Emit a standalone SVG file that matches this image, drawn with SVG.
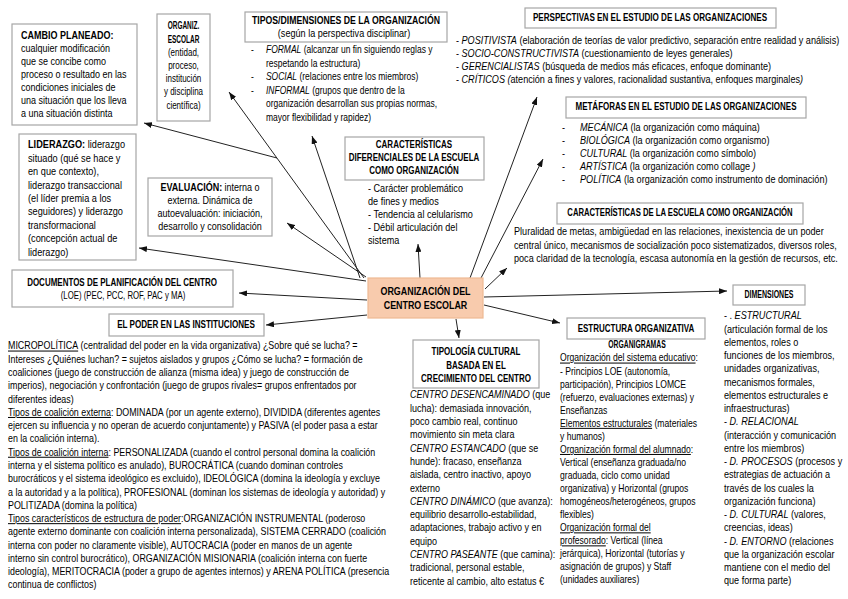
<svg xmlns="http://www.w3.org/2000/svg" width="848" height="599" viewBox="0 0 848 599">
<defs>
<marker id="ah" markerWidth="8" markerHeight="6" refX="8" refY="3" orient="auto" markerUnits="userSpaceOnUse"><path d="M0,0 L8,3 L0,6 Z" fill="#111"/></marker>
<style>
text{font-family:"Liberation Sans",Arial,sans-serif;font-size:10px;fill:#000}
.b{font-weight:bold}
.i{font-style:italic}
.u{text-decoration:underline}
.c{text-anchor:middle}
.box{fill:#fff;stroke:#a6a6a6;stroke-width:1.2}
.core{fill:#f8cbad;stroke:#eeb993;stroke-width:1.2}
.ln{stroke:#222;stroke-width:1;fill:none;marker-end:url(#ah)}
</style>
</defs>
<rect width="848" height="599" fill="#fff"/>
<g id="connectors">
<line class="ln" x1="277" y1="158" x2="144" y2="123"/>
<line class="ln" x1="364" y1="278" x2="229" y2="92"/>
<line class="ln" x1="360" y1="278" x2="312" y2="136"/>
<line class="ln" x1="366" y1="281" x2="139" y2="248"/>
<line class="ln" x1="366" y1="277" x2="287" y2="223"/>
<line class="ln" x1="367" y1="300" x2="239" y2="293"/>
<line class="ln" x1="367" y1="315" x2="266" y2="325"/>
<line class="ln" x1="420" y1="278" x2="418" y2="244"/>
<line class="ln" x1="470" y1="278" x2="537" y2="97"/>
<line class="ln" x1="481" y1="278" x2="543" y2="159"/>
<line class="ln" x1="485" y1="289" x2="507" y2="268"/>
<line class="ln" x1="484" y1="297" x2="727" y2="291"/>
<line class="ln" x1="484" y1="305" x2="560" y2="323"/>
<line class="ln" x1="456" y1="319" x2="459" y2="338"/>
</g>
<g id="cambio">
<rect class="box" x="12" y="24" width="125" height="101"/>
<g transform="translate(21 0) scale(0.9 1)">
<text y="39.5"><tspan class="b">CAMBIO PLANEADO:</tspan></text>
<text y="52.5">cualquier modificación</text>
<text y="65.5">que se concibe como</text>
<text y="78.5">proceso o resultado en las</text>
<text y="91.5">condiciones iniciales de</text>
<text y="104.5">una situación que los lleva</text>
<text y="117.5">a una situación distinta</text>
</g>
</g>
<g id="organiz">
<rect class="box" x="157" y="14" width="53" height="107"/>
<g transform="translate(183.5 0) scale(0.65 1)">
<text class="c b" y="29.5">ORGANIZ.</text>
<text class="c b" y="42.7">ESCOLAR</text>
</g>
<g transform="translate(183.5 0) scale(0.8 1)">
<text class="c" y="55.9">(entidad,</text>
<text class="c" y="69.1">proceso,</text>
<text class="c" y="82.3">institución</text>
<text class="c" y="95.5">y disciplina</text>
<text class="c" y="108.7">científica)</text>
</g>
</g>
<g id="tipos">
<rect class="box" x="245" y="12" width="202" height="30"/>
<g transform="translate(346 0) scale(0.87 1)"><text class="c b" y="24.5">TIPOS/DIMENSIONES DE LA ORGANIZACIÓN</text></g>
<g transform="translate(344 0) scale(0.91 1)"><text class="c" y="37.5">(según la perspectiva disciplinar)</text></g>
<g transform="translate(251 0) scale(0.85 1)">
<text y="53.5">-</text><text x="17.6" y="53.5"><tspan class="i">FORMAL</tspan> (alcanzar un fin siguiendo reglas y</text>
<text x="17.6" y="67">respetando la estructura)</text>
<text y="80.5">-</text><text x="17.6" y="80.5"><tspan class="i">SOCIAL</tspan> (relaciones entre los miembros)</text>
<text y="94">-</text><text x="17.6" y="94"><tspan class="i">INFORMAL</tspan> (grupos que dentro de la</text>
<text x="17.6" y="107.5">organización desarrollan sus propias normas,</text>
<text x="17.6" y="121">mayor flexibilidad y rapidez)</text>
</g>
</g>
<g id="perspectivas">
<rect class="box" x="525" y="8" width="251" height="20"/>
<g transform="translate(650 0) scale(0.81 1)"><text class="c b" y="21.5">PERSPECTIVAS EN EL ESTUDIO DE LAS ORGANIZACIONES</text></g>
<g transform="translate(456 0) scale(0.91 1)">
<text y="44.5">- <tspan class="i">POSITIVISTA</tspan> (elaboración de teorías de valor predictivo, separación entre realidad y análisis)</text>
<text y="57.5">- <tspan class="i">SOCIO-CONSTRUCTIVISTA</tspan> (cuestionamiento de leyes generales)</text>
<text y="70.5">- <tspan class="i">GERENCIALISTAS</tspan> (búsqueda de medios más eficaces, enfoque dominante)</text>
<text y="83.5">- <tspan class="i">CRÍTICOS (</tspan>atención a fines y valores, racionalidad sustantiva, enfoques marginales<tspan class="i">)</tspan></text>
</g>
</g>
<g id="metaforas">
<rect class="box" x="566" y="97" width="240" height="21"/>
<g transform="translate(686 0) scale(0.8 1)"><text class="c b" y="110.5">METÁFORAS EN EL ESTUDIO DE LAS ORGANIZACIONES</text></g>
<g transform="translate(562 0) scale(0.91 1)">
<text y="131.5">-</text><text x="19.8" y="131.5"><tspan class="i">MECÁNICA</tspan> (la organización como máquina)</text>
<text y="144.5">-</text><text x="19.8" y="144.5"><tspan class="i">BIOLÓGICA</tspan> (la organización como organismo)</text>
<text y="157.5">-</text><text x="19.8" y="157.5"><tspan class="i">CULTURAL</tspan> (la organización como símbolo)</text>
<text y="170.5">-</text><text x="19.8" y="170.5"><tspan class="i">ARTÍSTICA</tspan> (la organización como collage<tspan class="i"> )</tspan></text>
<text y="183.5">-</text><text x="19.8" y="183.5"><tspan class="i">POLÍTICA</tspan> (la organización como instrumento de dominación)</text>
</g>
</g>
<g id="caract-dif">
<rect class="box" x="345" y="137" width="139" height="43"/>
<g transform="translate(414 0) scale(0.8 1)">
<text class="c b" y="148.5">CARACTERÍSTICAS</text>
<text class="c b" y="161.5">DIFERENCIALES DE LA ESCUELA</text>
<text class="c b" y="174.5">COMO ORGANIZACIÓN</text>
</g>
<g transform="translate(368 0) scale(0.91 1)">
<text y="192.5">- Carácter problemático</text>
<text y="205.5">de fines y medios</text>
<text y="218.5">- Tendencia al celularismo</text>
<text y="231.5">- Débil articulación del</text>
<text y="244.5">sistema</text>
</g>
</g>
<g id="caract-escuela">
<rect class="box" x="557" y="203" width="246" height="21"/>
<g transform="translate(680 0) scale(0.77 1)"><text class="c b" y="216.5">CARACTERÍSTICAS DE LA ESCUELA COMO ORGANIZACIÓN</text></g>
<g transform="translate(514 0) scale(0.91 1)">
<text y="235.5">Pluralidad de metas, ambigüedad en las relaciones, inexistencia de un poder</text>
<text y="249">central único, mecanismos de socialización poco sistematizados, diversos roles,</text>
<text y="262.5">poca claridad de la tecnología, escasa autonomía en la gestión de recursos, etc.</text>
</g>
</g>
<g id="liderazgo">
<rect class="box" x="19" y="134" width="117" height="126"/>
<g transform="translate(28 0) scale(0.92 1)">
<text y="148.5"><tspan class="b">LIDERAZGO:</tspan> liderazgo</text>
<text y="161.9">situado (qué se hace y</text>
<text y="175.3">en que contexto),</text>
<text y="188.7">liderazgo transaccional</text>
<text y="202.1">(el líder premia a los</text>
<text y="215.5">seguidores) y liderazgo</text>
<text y="228.9">transformacional</text>
<text y="242.3">(concepción actual de</text>
<text y="255.7">liderazgo)</text>
</g>
</g>
<g id="evaluacion">
<rect class="box" x="148" y="178" width="124" height="58"/>
<g transform="translate(210 0) scale(0.9 1)">
<text class="c" y="191"><tspan class="b">EVALUACIÓN:</tspan> interna o</text>
<text class="c" y="204">externa. Dinámica de</text>
<text class="c" y="217">autoevaluación: iniciación,</text>
<text class="c" y="230">desarrollo y consolidación</text>
</g>
</g>
<g id="documentos">
<rect class="box" x="12" y="270" width="221" height="37"/>
<g transform="translate(122 0) scale(0.8 1)"><text class="c b" y="286.5">DOCUMENTOS DE PLANIFICACIÓN DEL CENTRO</text></g>
<g transform="translate(123 0) scale(0.78 1)"><text class="c" y="299.5">(LOE) (PEC, PCC, ROF, PAC y MA)</text></g>
</g>
<g id="poder">
<rect class="box" x="109" y="314" width="155" height="22"/>
<g transform="translate(186 0) scale(0.81 1)"><text class="c b" y="328.5">EL PODER EN LAS INSTITUCIONES</text></g>
<g transform="translate(8 0) scale(0.89 1)">
<text y="349.5"><tspan class="u">MICROPOLÍTICA</tspan> (centralidad del poder en la vida organizativa) ¿Sobre qué se lucha? =</text>
<text y="362.8">Intereses ¿Quiénes luchan? = sujetos aislados y grupos ¿Cómo se lucha? = formación de</text>
<text y="376.1">coaliciones (juego de construcción de alianza (misma idea) y juego de construcción de</text>
<text y="389.4">imperios), negociación y confrontación (juego de grupos rivales= grupos enfrentados por</text>
<text y="402.6">diferentes ideas)</text>
<text y="415.9"><tspan class="u">Tipos de coalición externa</tspan>: DOMINADA (por un agente externo), DIVIDIDA (diferentes agentes</text>
<text y="429.2">ejercen su influencia y no operan de acuerdo conjuntamente) y PASIVA (el poder pasa a estar</text>
<text y="442.5">en la coalición interna).</text>
<text y="455.7"><tspan class="u">Tipos de coalición interna</tspan>: PERSONALIZADA (cuando el control personal domina la coalición</text>
<text y="469">interna y el sistema político es anulado), BUROCRÁTICA (cuando dominan controles</text>
<text y="482.3">burocráticos y el sistema ideológico es excluido), IDEOLÓGICA (domina la ideología y excluye</text>
<text y="495.6">a la autoridad y a la política), PROFESIONAL (dominan los sistemas de ideología y autoridad) y</text>
<text y="508.8">POLITIZADA (domina la política)</text>
<text y="522.1"><tspan class="u">Tipos característicos de estructura de poder</tspan>:ORGANIZACIÓN INSTRUMENTAL (poderoso</text>
<text y="535.4">agente externo dominante con coalición interna personalizada), SISTEMA CERRADO (coalición</text>
<text y="548.7">interna con poder no claramente visible), AUTOCRACIA (poder en manos de un agente</text>
<text y="561.9">interno sin control burocrático), ORGANIZACIÓN MISIONARIA (coalición interna con fuerte</text>
<text y="575.2">ideología), MERITOCRACIA (poder a grupo de agentes internos) y ARENA POLÍTICA (presencia</text>
<text y="588.5">continua de conflictos)</text>
</g>
</g>
<g id="centro">
<rect class="core" x="368" y="278" width="115" height="40"/>
<g transform="translate(425.5 0) scale(0.81 1)">
<text class="c b" y="295" style="font-size:11px">ORGANIZACIÓN DEL</text>
<text class="c b" y="309" style="font-size:11px">CENTRO ESCOLAR</text>
</g>
</g>
<g id="tipologia">
<rect class="box" x="413" y="340" width="126" height="48"/>
<g transform="translate(476 0) scale(0.8 1)">
<text class="c b" y="355.5">TIPOLOGÍA CULTURAL</text>
<text class="c b" y="369">BASADA EN EL</text>
<text class="c b" y="382.5">CRECIMIENTO DEL CENTRO</text>
</g>
<g transform="translate(410 0) scale(0.9 1)">
<text y="398.5"><tspan class="i">CENTRO DESENCAMINADO</tspan> (que</text>
<text y="411.8">lucha): demasiada innovación,</text>
<text y="425.1">poco cambio real, continuo</text>
<text y="438.4">movimiento sin meta clara</text>
<text y="451.7"><tspan class="i">CENTRO ESTANCADO</tspan> (que se</text>
<text y="465">hunde): fracaso, enseñanza</text>
<text y="478.3">aislada, centro inactivo, apoyo</text>
<text y="491.6">externo</text>
<text y="504.9"><tspan class="i">CENTRO DINÁMICO</tspan> (que avanza):</text>
<text y="518.2">equilibrio desarrollo-estabilidad,</text>
<text y="531.5">adaptaciones, trabajo activo y en</text>
<text y="544.8">equipo</text>
<text y="558.1"><tspan class="i">CENTRO PASEANTE</tspan> (que camina):</text>
<text y="571.4">tradicional, personal estable,</text>
<text y="584.7">reticente al cambio, alto estatus €</text>
</g>
</g>
<g id="estructura">
<rect class="box" x="567" y="318" width="138" height="21"/>
<g transform="translate(636 0) scale(0.8 1)"><text class="c b" y="332">ESTRUCTURA ORGANIZATIVA</text></g>
<g transform="translate(637 0) scale(0.68 1)"><text class="c b" y="348.5">ORGANIGRAMAS</text></g>
<g transform="translate(560 0) scale(0.86 1)">
<text y="361.5"><tspan class="u">Organización del sistema educativo</tspan>:</text>
<text y="374.6">- Principios LOE (autonomía,</text>
<text y="387.6">participación), Principios LOMCE</text>
<text y="400.7">(refuerzo, evaluaciones  externas) y</text>
<text y="413.7">Enseñanzas</text>
<text y="426.8"><tspan class="u">Elementos estructurales</tspan> (materiales</text>
<text y="439.9">y humanos)</text>
<text y="452.9"><tspan class="u">Organización formal del alumnado</tspan>:</text>
<text y="466">Vertical (enseñanza graduada/no</text>
<text y="479">graduada, ciclo como unidad</text>
<text y="492.1">organizativa) y Horizontal (grupos</text>
<text y="505.2">homogéneos/heterogéneos, grupos</text>
<text y="518.2">flexibles)</text>
<text y="531.3"><tspan class="u">Organización formal del</tspan></text>
<text y="544.3"><tspan class="u">profesorado</tspan>: Vertical (línea</text>
<text y="557.4">jerárquica), Horizontal (tutorías y</text>
<text y="570.4">asignación de grupos) y Staff</text>
<text y="583.5">(unidades auxiliares)</text>
</g>
</g>
<g id="dimensiones">
<rect class="box" x="733" y="285" width="72" height="20"/>
<g transform="translate(769 0) scale(0.7 1)"><text class="c b" y="298.5">DIMENSIONES</text></g>
<g transform="translate(724 0) scale(0.91 1)">
<text y="319.5">- . <tspan class="i">ESTRUCTURAL</tspan></text>
<text y="332.8">(articulación formal de los</text>
<text y="346">elementos, roles o</text>
<text y="359.3">funciones de los miembros,</text>
<text y="372.5">unidades organizativas,</text>
<text y="385.8">mecanismos formales,</text>
<text y="399">elementos estructurales e</text>
<text y="412.3">infraestructuras)</text>
<text y="425.5">- <tspan class="i">D. RELACIONAL</tspan></text>
<text y="438.8">(interacción y comunicación</text>
<text y="452">entre los miembros)</text>
<text y="465.3">- <tspan class="i">D. PROCESOS</tspan> (procesos y</text>
<text y="478.5">estrategias de actuación a</text>
<text y="491.8">través de los cuales la</text>
<text y="505">organización funciona)</text>
<text y="518.3">- <tspan class="i">D. CULTURAL</tspan> (valores,</text>
<text y="531.5">creencias, ideas)</text>
<text y="544.8">- <tspan class="i">D. ENTORNO</tspan> (relaciones</text>
<text y="558">que la organización escolar</text>
<text y="571.3">mantiene con el medio del</text>
<text y="584.5">que forma parte)</text>
</g>
</g>
</svg>
